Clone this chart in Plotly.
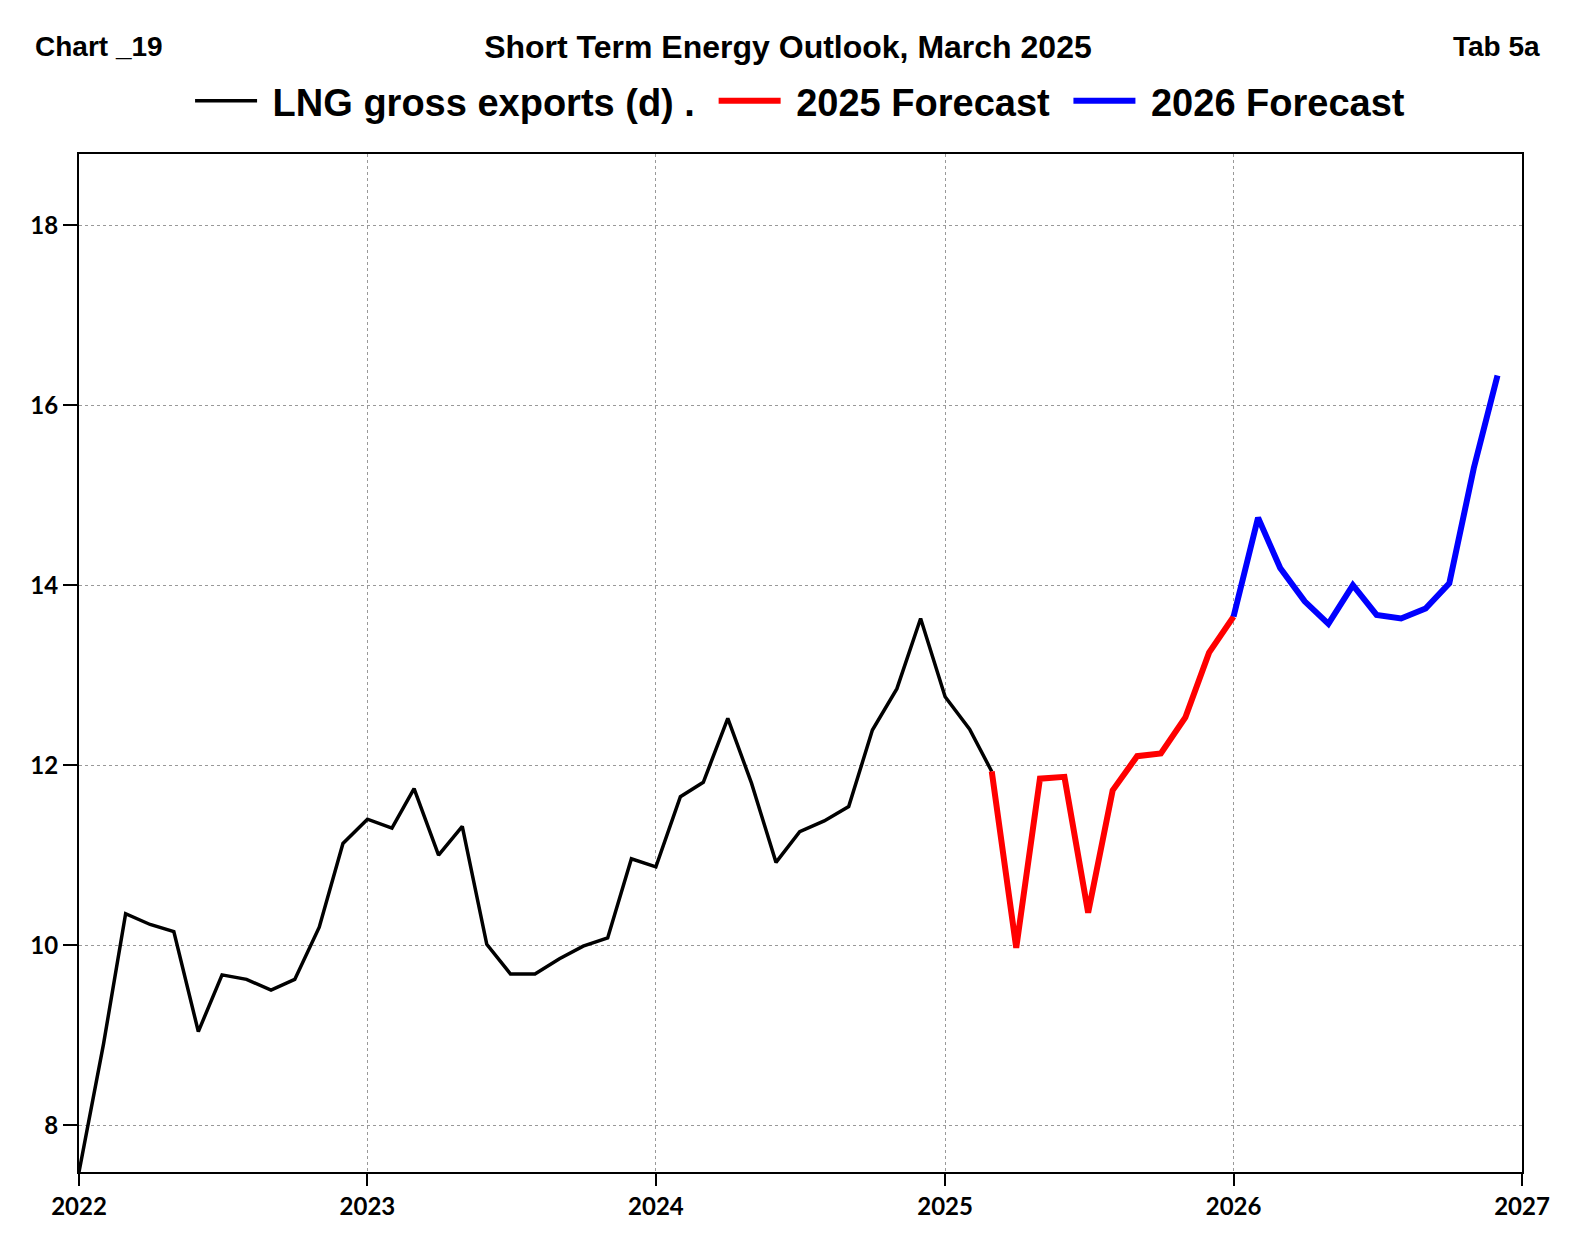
import plotly.graph_objects as go
import pandas as pd

# ---- data ----
hist_months = pd.date_range("2022-01-01", "2025-03-01", freq="MS")
hist_values = [7.48, 8.90, 10.35, 10.23, 10.15, 9.04, 9.67, 9.62, 9.50, 9.62, 10.20, 11.13,
               11.40, 11.30, 11.74, 11.00, 11.32, 10.01, 9.68, 9.68, 9.85, 9.99, 10.08, 10.96,
               10.87, 11.65, 11.81, 12.52, 11.80, 10.92, 11.26, 11.38, 11.54, 12.39, 12.85, 13.63,
               12.76, 12.40, 11.93]

f25_months = pd.date_range("2025-03-01", "2026-01-01", freq="MS")
f25_values = [11.93, 9.97, 11.85, 11.87, 10.36, 11.72, 12.10, 12.13, 12.53, 13.25, 13.65]

f26_months = pd.date_range("2026-01-01", "2026-12-01", freq="MS")
f26_values = [13.65, 14.75, 14.19, 13.82, 13.57, 14.00, 13.67, 13.63, 13.74, 14.02, 15.30, 16.33]

series_names = ["LNG gross exports (d) .", "2025 Forecast", "2026 Forecast"]
title_text = "Short Term Energy Outlook, March 2025"
left_label = "Chart _19"
right_label = "Tab 5a"

NB = "\u00a0"
legend_labels = [NB + series_names[0] + NB + "\u200a",
                 NB + series_names[1] + NB + "\u200a",
                 NB + series_names[2]]

tick_font = dict(family="Lato", size=24, color="black", weight="bold")
corner_font = dict(family="Liberation Sans", size=28, color="black", weight="bold")
title_font = dict(family="Liberation Sans", size=32, color="black", weight="bold")

fig = go.Figure()
fig.add_trace(go.Scatter(x=hist_months, y=hist_values, mode="lines", name=legend_labels[0],
                         line=dict(color="black", width=3.5)))
fig.add_trace(go.Scatter(x=f25_months, y=f25_values, mode="lines", name=legend_labels[1],
                         line=dict(color="#ff0000", width=6)))
fig.add_trace(go.Scatter(x=f26_months, y=f26_values, mode="lines", name=legend_labels[2],
                         line=dict(color="#0000ff", width=6)))

fig.update_layout(
    template="none",
    width=1575, height=1260,
    margin=dict(l=71, r=61, t=146, b=96, pad=0),
    paper_bgcolor="white", plot_bgcolor="white",
    title=dict(text=title_text, x=0.4952, xref="container", xanchor="center",
               y=0.9694, yref="container", yanchor="middle", font=title_font),
    showlegend=True,
    legend=dict(orientation="h", x=0.4997, xanchor="center", y=1.052, yanchor="middle",
                font=dict(family="Liberation Sans", size=38, color="black", weight="bold"),
                itemwidth=62, bgcolor="rgba(0,0,0,0)", borderwidth=0),
    annotations=[
        dict(text=left_label, xref="paper", yref="paper", x=-0.0320, y=1.1055,
             xanchor="left", yanchor="middle", showarrow=False, font=corner_font),
        dict(text=right_label, xref="paper", yref="paper", x=1.0139, y=1.1055,
             xanchor="right", yanchor="middle", showarrow=False, font=corner_font),
    ],
)

fig.update_xaxes(type="date", range=["2022-01-01", "2027-01-01"], dtick="M12", tickformat="%Y",
                 tick0="2022-01-01", ticks="outside", ticklen=12, tickwidth=2, tickcolor="black",
                 showline=True, linecolor="black", linewidth=2, mirror=True, automargin=False,
                 showgrid=True, gridcolor="#999999", gridwidth=1, griddash="dot",
                 tickfont=tick_font, zeroline=False)
fig.update_yaxes(range=[7.48, 18.79], dtick=2, tick0=0, ticks="outside", ticklen=14, tickwidth=2,
                 tickcolor="black", showline=True, linecolor="black", linewidth=2, mirror=True,
                 automargin=False, showgrid=True, gridcolor="#999999", gridwidth=1, griddash="dot",
                 tickfont=tick_font, zeroline=False)

fig.write_html("out.html")
